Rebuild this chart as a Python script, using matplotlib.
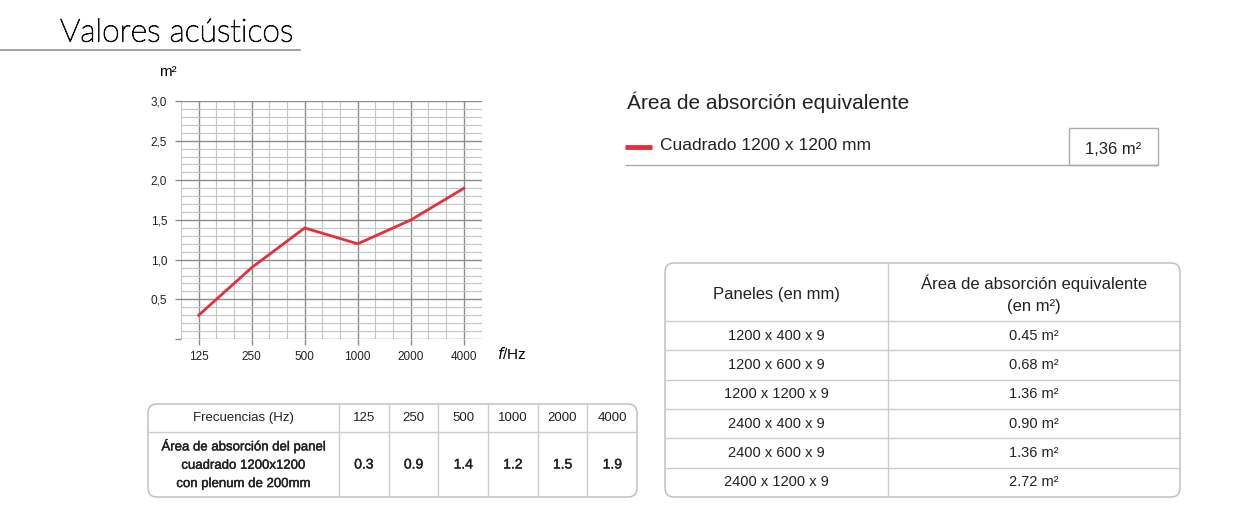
import numpy as np
import matplotlib.pyplot as plt
import matplotlib.patheffects as pe
from matplotlib.patches import FancyBboxPatch, Rectangle

plt.rcParams['font.family'] = ['Liberation Sans', 'DejaVu Sans']

# data
freqs = ["125", "250", "500", "1000", "2000", "4000"]
absorption = [0.3, 0.9, 1.4, 1.2, 1.5, 1.9]
row_label = "Área de absorción del panel\ncuadrado 1200x1200\ncon plenum de 200mm"

panels = ["1200 x 400 x 9", "1200 x 600 x 9", "1200 x 1200 x 9",
          "2400 x 400 x 9", "2400 x 600 x 9", "2400 x 1200 x 9"]
panel_area = ["0.45 m²", "0.68 m²", "1.36 m²", "0.90 m²", "1.36 m²", "2.72 m²"]

legend_label = "Cuadrado 1200 x 1200 mm"
legend_value = "1,36 m²"

RED = "#e2313b"
TXT = "#222222"
W, H = 1240, 516
semibold = [pe.withStroke(linewidth=0.3, foreground=TXT)]

fig = plt.figure(figsize=(W / 100, H / 100), dpi=100)

# overlay in pixel coords for title / tables
ov = fig.add_axes([0, 0, 1, 1])
ov.set_xlim(0, W)
ov.set_ylim(H, 0)
ov.axis("off")

ov.text(60, 33, "Valores acústicos", fontsize=23, family=["Lato", "DejaVu Sans"],
        fontweight="light", color="#111111", va="center", ha="left",
        path_effects=[pe.withStroke(linewidth=0.7, foreground="#111111")])
ov.plot([0, 300], [50, 50], color="#999", lw=1.3)

# chart
ax = fig.add_axes([181 / W, (H - 339) / H, 300.5 / W, 238 / H])
x = np.arange(len(freqs))
ax.plot(x, absorption, color=RED, lw=2, zorder=3)
ax.set_xlim(-1 / 3, len(freqs) - 1 + 1 / 3)
ax.set_ylim(0, 3.0)
ax.set_xticks(x)
ax.set_xticklabels(freqs)
ax.set_xticks(np.arange(-1, 3 * len(freqs) - 1) / 3, minor=True)
yt = np.arange(0, 3.01, 0.5)
ax.set_yticks(yt)
ax.set_yticklabels([""] + [f"{v:.1f}".replace(".", ",") for v in yt[1:]])
ax.set_yticks(np.arange(0, 3.01, 0.1), minor=True)
ax.grid(which="major", color="#8c8c8c", lw=1.0)
ax.grid(which="minor", color="#c4c4c4", lw=0.8)
ax.tick_params(which="major", length=4, width=1.0, color="#8c8c8c",
               labelsize=8.5, pad=5, labelcolor=TXT)
ax.tick_params(axis="y", which="major", pad=6)
ax.tick_params(which="minor", length=0)
for s in ax.spines.values():
    s.set_visible(False)
ax.set_axisbelow(True)
ax.text(-0.045, 1.12, "m²", transform=ax.transAxes, fontsize=11, ha="center", va="center")
ax.text(1.1, -0.065, "$f$/Hz", transform=ax.transAxes, fontsize=11, ha="center", va="center")

# legend block
ov.text(627, 102, "Área de absorción equivalente", fontsize=15, va="center", ha="left", color=TXT)
ov.plot([625, 652], [147, 147], color=RED, lw=3.5, solid_capstyle="butt")
ov.text(660, 146, legend_label, fontsize=12.5, va="center", ha="left", color=TXT)
ov.add_patch(Rectangle((1069, 128), 89, 37, fill=False, ec="#aaa", lw=1))
ov.text(1113, 150, legend_value, fontsize=12, va="center", ha="center", color=TXT)
ov.plot([625, 1158], [165, 165], color="#aaa", lw=1, solid_capstyle="butt")

# bottom-left table
tx0, tx1, ty0, ty1 = 148, 637, 404, 497
tmid = 432
ov.add_patch(FancyBboxPatch((tx0, ty0), tx1 - tx0, ty1 - ty0,
                            boxstyle="round,pad=0,rounding_size=9",
                            fc="white", ec="#bbb", lw=1))
ov.plot([tx0, tx1], [tmid, tmid], color="#ccc", lw=1)
c0 = 339
cw = (tx1 - c0) / len(freqs)
for i in range(len(freqs)):
    ov.plot([c0 + i * cw] * 2, [ty0, ty1], color="#ccc", lw=1)
ov.text((tx0 + c0) / 2, (ty0 + tmid) / 2, "Frecuencias (Hz)", fontsize=9.5,
        ha="center", va="center", color=TXT)
ov.text((tx0 + c0) / 2, (tmid + ty1) / 2, row_label, fontsize=9.5, ha="center",
        va="center", color=TXT, linespacing=1.7, path_effects=semibold)
for i, (f, v) in enumerate(zip(freqs, absorption)):
    cx = c0 + (i + 0.5) * cw
    ov.text(cx, (ty0 + tmid) / 2, f, fontsize=9.5, ha="center", va="center", color=TXT)
    ov.text(cx, (tmid + ty1) / 2, f"{v:.1f}", fontsize=10, ha="center", va="center",
            color=TXT, path_effects=semibold)

# right table
rx0, rx1, ry0, ry1 = 665, 1180, 263, 497
rhead = 321
rdiv = 888
rh = (ry1 - rhead) / len(panels)
ov.add_patch(FancyBboxPatch((rx0, ry0), rx1 - rx0, ry1 - ry0,
                            boxstyle="round,pad=0,rounding_size=9",
                            fc="white", ec="#bbb", lw=1))
ov.plot([rdiv, rdiv], [ry0, ry1], color="#ccc", lw=1)
ov.text((rx0 + rdiv) / 2, (ry0 + rhead) / 2 + 2, "Paneles (en mm)", fontsize=12,
        ha="center", va="center", color=TXT)
ov.text((rdiv + rx1) / 2, (ry0 + rhead) / 2 + 2, "Área de absorción equivalente\n(en m²)",
        fontsize=12, ha="center", va="center", color=TXT, linespacing=1.6)
for i, (p, a) in enumerate(zip(panels, panel_area)):
    yy = rhead + i * rh
    ov.plot([rx0, rx1], [yy, yy], color="#ccc", lw=1)
    ov.text((rx0 + rdiv) / 2, yy + rh / 2, p, fontsize=10.5, ha="center", va="center", color=TXT)
    ov.text((rdiv + rx1) / 2, yy + rh / 2, a, fontsize=10.5, ha="center", va="center", color=TXT)

fig.savefig("out.png", dpi=100)
